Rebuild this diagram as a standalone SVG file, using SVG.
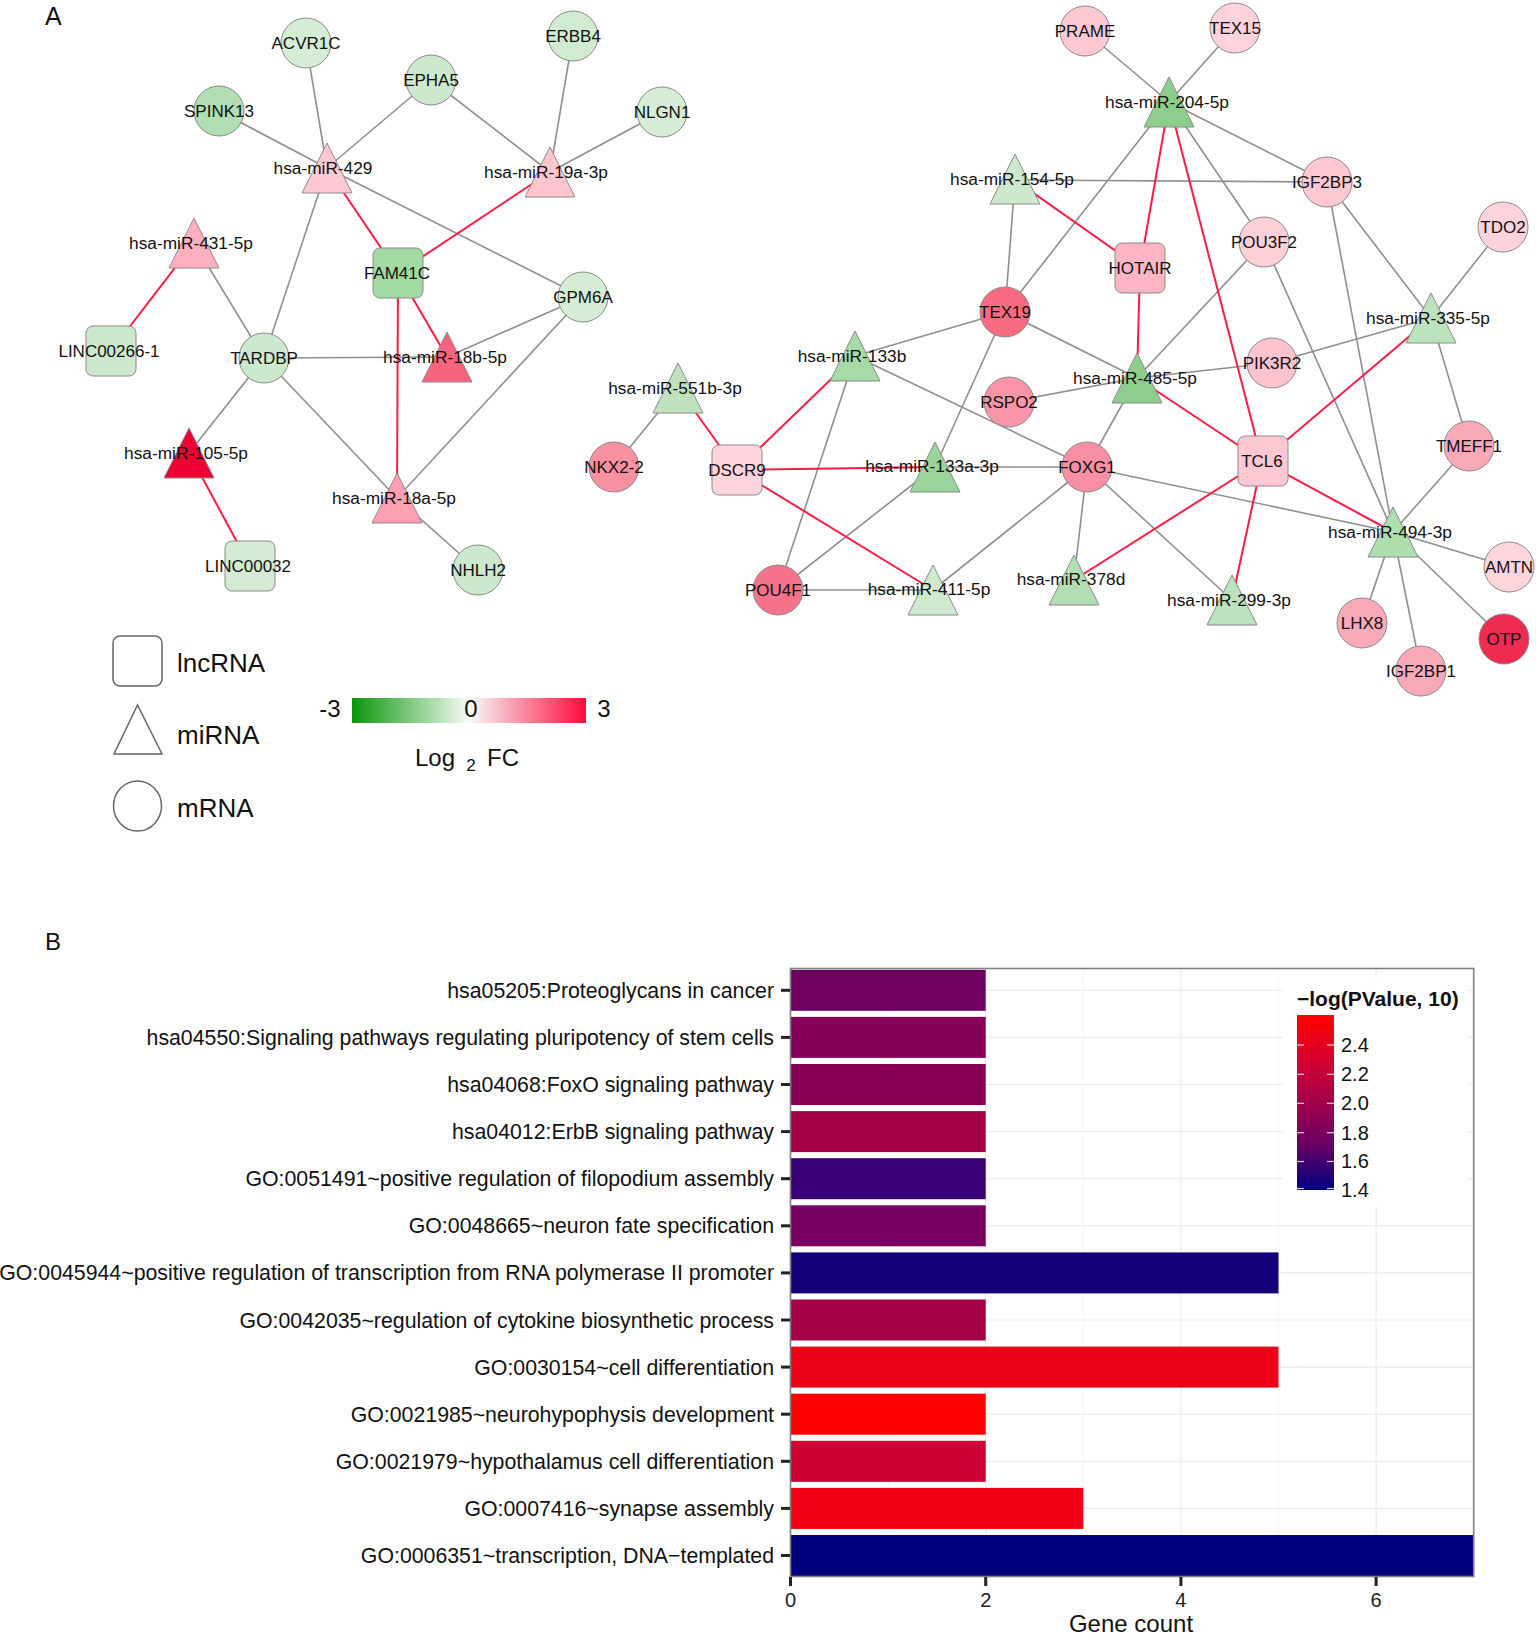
<svg xmlns="http://www.w3.org/2000/svg" width="1536" height="1635" viewBox="0 0 1536 1635">
<defs>
<style>
text{font-family:"Liberation Sans",Arial,sans-serif;fill:#111}
.e{stroke:#8f8f8f;stroke-width:1.6;fill:none}
.r{stroke:#ff1a45;stroke-width:2;fill:none}
.n{stroke:#8a8a8a;stroke-width:1}
.g{font-size:17px;text-anchor:middle}
.m{font-size:17.3px;text-anchor:middle}
.leg{font-size:26px}
.yl{font-size:21.3px;text-anchor:end}
.xt{font-size:20px;text-anchor:middle;fill:#222}
.tk{stroke:#222;stroke-width:3}
.gr{stroke:#ebebeb;stroke-width:1.2}
.gm{stroke:#f2f2f2;stroke-width:0.8}
</style>
<linearGradient id="fc" x1="0" y1="0" x2="1" y2="0">
<stop offset="0" stop-color="#0a960a"/>
<stop offset="0.5" stop-color="#f7fbf7"/>
<stop offset="1" stop-color="#ff0a3c"/>
</linearGradient>
<linearGradient id="pv" x1="0" y1="0" x2="0" y2="1">
<stop offset="0" stop-color="#ff0000"/>
<stop offset="0.25" stop-color="#d6002e"/>
<stop offset="0.5" stop-color="#a2004a"/>
<stop offset="0.75" stop-color="#660064"/>
<stop offset="1" stop-color="#00007f"/>
</linearGradient>
</defs>
<rect width="1536" height="1635" fill="#fff"/>
<text x="45" y="25" style="font-size:25px">A</text>
<text x="45" y="950" style="font-size:24px">B</text>

<g id="connectors">
<line class="e" x1="219" y1="111" x2="327" y2="168"/>
<line class="e" x1="306" y1="43" x2="327" y2="168"/>
<line class="e" x1="431" y1="80" x2="327" y2="168"/>
<line class="e" x1="431" y1="80" x2="550" y2="172"/>
<line class="e" x1="573" y1="36" x2="550" y2="172"/>
<line class="e" x1="662" y1="112" x2="550" y2="172"/>
<line class="e" x1="327" y1="168" x2="583" y2="297"/>
<line class="e" x1="327" y1="168" x2="264" y2="358"/>
<line class="e" x1="194" y1="243" x2="264" y2="358"/>
<line class="e" x1="264" y1="358" x2="447" y2="357"/>
<line class="e" x1="264" y1="358" x2="189" y2="453"/>
<line class="e" x1="264" y1="358" x2="397" y2="498"/>
<line class="e" x1="583" y1="297" x2="447" y2="357"/>
<line class="e" x1="583" y1="297" x2="397" y2="498"/>
<line class="e" x1="397" y1="498" x2="478" y2="570"/>
<line class="r" x1="327" y1="168" x2="398" y2="273"/>
<line class="r" x1="550" y1="172" x2="398" y2="273"/>
<line class="r" x1="398" y1="273" x2="447" y2="357"/>
<line class="r" x1="398" y1="273" x2="397" y2="498"/>
<line class="r" x1="194" y1="243" x2="111" y2="351"/>
<line class="r" x1="189" y1="453" x2="250" y2="566"/>

<line class="e" x1="1085" y1="31" x2="1169" y2="102"/>
<line class="e" x1="1235" y1="28" x2="1169" y2="102"/>
<line class="e" x1="1169" y1="102" x2="1327" y2="182"/>
<line class="e" x1="1169" y1="102" x2="1264" y2="242"/>
<line class="e" x1="1169" y1="102" x2="1005" y2="312"/>
<line class="e" x1="1015" y1="180" x2="1327" y2="182"/>
<line class="e" x1="1015" y1="180" x2="1005" y2="312"/>
<line class="e" x1="1327" y1="182" x2="1431" y2="318"/>
<line class="e" x1="1327" y1="182" x2="1393" y2="532"/>
<line class="e" x1="1264" y1="242" x2="1137" y2="378"/>
<line class="e" x1="1264" y1="242" x2="1393" y2="532"/>
<line class="e" x1="1503" y1="227" x2="1431" y2="318"/>
<line class="e" x1="1431" y1="318" x2="1272" y2="363"/>
<line class="e" x1="1272" y1="363" x2="1137" y2="378"/>
<line class="e" x1="1431" y1="318" x2="1469" y2="446"/>
<line class="e" x1="1005" y1="312" x2="855" y2="356"/>
<line class="e" x1="1005" y1="312" x2="1137" y2="378"/>
<line class="e" x1="1005" y1="312" x2="935" y2="467"/>
<line class="e" x1="855" y1="356" x2="1087" y2="467"/>
<line class="e" x1="855" y1="356" x2="778" y2="590"/>
<line class="e" x1="1009" y1="402" x2="1137" y2="378"/>
<line class="e" x1="1137" y1="378" x2="1087" y2="467"/>
<line class="e" x1="678" y1="388" x2="614" y2="467"/>
<line class="e" x1="935" y1="467" x2="1087" y2="467"/>
<line class="e" x1="935" y1="467" x2="778" y2="590"/>
<line class="e" x1="778" y1="590" x2="933" y2="590"/>
<line class="e" x1="933" y1="590" x2="1087" y2="467"/>
<line class="e" x1="1087" y1="467" x2="1074" y2="580"/>
<line class="e" x1="1087" y1="467" x2="1232" y2="600"/>
<line class="e" x1="1087" y1="467" x2="1393" y2="532"/>
<line class="e" x1="1393" y1="532" x2="1469" y2="446"/>
<line class="e" x1="1393" y1="532" x2="1509" y2="567"/>
<line class="e" x1="1393" y1="532" x2="1362" y2="623"/>
<line class="e" x1="1393" y1="532" x2="1421" y2="671"/>
<line class="e" x1="1393" y1="532" x2="1504" y2="639"/>
<line class="r" x1="1015" y1="180" x2="1140" y2="268"/>
<line class="r" x1="1169" y1="102" x2="1140" y2="268"/>
<line class="r" x1="1169" y1="102" x2="1262" y2="461"/>
<line class="r" x1="1140" y1="268" x2="1137" y2="378"/>
<line class="r" x1="1137" y1="378" x2="1262" y2="461"/>
<line class="r" x1="1431" y1="318" x2="1262" y2="461"/>
<line class="r" x1="1262" y1="461" x2="1393" y2="532"/>
<line class="r" x1="1262" y1="461" x2="1232" y2="600"/>
<line class="r" x1="1262" y1="461" x2="1074" y2="580"/>
<line class="r" x1="678" y1="388" x2="737" y2="470"/>
<line class="r" x1="737" y1="470" x2="855" y2="356"/>
<line class="r" x1="737" y1="470" x2="935" y2="467"/>
<line class="r" x1="737" y1="470" x2="933" y2="590"/>
</g>

<g id="n-ACVR1C"><circle class="n" cx="306" cy="43" r="25" fill="#d5edd5"/><text class="g" x="306" y="49">ACVR1C</text></g>
<g id="n-ERBB4"><circle class="n" cx="573" cy="36" r="25" fill="#d0ebd0"/><text class="g" x="573" y="42">ERBB4</text></g>
<g id="n-EPHA5"><circle class="n" cx="431" cy="80" r="25" fill="#cde9cd"/><text class="g" x="431" y="86">EPHA5</text></g>
<g id="n-SPINK13"><circle class="n" cx="219" cy="111" r="25" fill="#b3deb3"/><text class="g" x="219" y="117">SPINK13</text></g>
<g id="n-NLGN1"><circle class="n" cx="662" cy="112" r="25" fill="#d5edd5"/><text class="g" x="662" y="118">NLGN1</text></g>
<g id="n-GPM6A"><circle class="n" cx="583" cy="297" r="25" fill="#d5edd5"/><text class="g" x="583" y="303">GPM6A</text></g>
<g id="n-TARDBP"><circle class="n" cx="264" cy="358" r="25" fill="#cde9cd"/><text class="g" x="264" y="364">TARDBP</text></g>
<g id="n-NHLH2"><circle class="n" cx="478" cy="570" r="25" fill="#cde9cd"/><text class="g" x="478" y="576">NHLH2</text></g>
<g id="n-FAM41C"><rect class="n" x="373" y="248" width="50" height="50" rx="7" fill="#a3d9a3"/><text class="g" x="397" y="279">FAM41C</text></g>
<g id="n-LINC00266-1"><rect class="n" x="86" y="326" width="50" height="50" rx="7" fill="#cde9cd"/><text class="g" x="109" y="357">LINC00266-1</text></g>
<g id="n-LINC00032"><rect class="n" x="225" y="541" width="50" height="50" rx="7" fill="#d2ebd2"/><text class="g" x="248" y="572">LINC00032</text></g>
<g id="n-miR-429"><polygon class="n" points="327,143 302,193 352,193" fill="#ffc8d2"/><text class="m" x="323" y="174">hsa-miR-429</text></g>
<g id="n-miR-19a-3p"><polygon class="n" points="550,147 525,197 575,197" fill="#ffc5cf"/><text class="m" x="546" y="178">hsa-miR-19a-3p</text></g>
<g id="n-miR-431-5p"><polygon class="n" points="194,218 169,268 219,268" fill="#ffb0c0"/><text class="m" x="191" y="249">hsa-miR-431-5p</text></g>
<g id="n-miR-18b-5p"><polygon class="n" points="447,332 422,382 472,382" fill="#f7647f"/><text class="m" x="445" y="363">hsa-miR-18b-5p</text></g>
<g id="n-miR-105-5p"><polygon class="n" points="189,428 164,478 214,478" fill="#ee0033"/><text class="m" x="186" y="459">hsa-miR-105-5p</text></g>
<g id="n-miR-18a-5p"><polygon class="n" points="397,473 372,523 422,523" fill="#ff9fb2"/><text class="m" x="394" y="504">hsa-miR-18a-5p</text></g>

<g id="n-PRAME"><circle class="n" cx="1085" cy="31" r="25" fill="#ffc8d3"/><text class="g" x="1085" y="37">PRAME</text></g>
<g id="n-TEX15"><circle class="n" cx="1235" cy="28" r="25" fill="#ffd3db"/><text class="g" x="1235" y="34">TEX15</text></g>
<g id="n-IGF2BP3"><circle class="n" cx="1327" cy="182" r="25" fill="#ffc8d3"/><text class="g" x="1327" y="188">IGF2BP3</text></g>
<g id="n-POU3F2"><circle class="n" cx="1264" cy="242" r="25" fill="#ffd0d8"/><text class="g" x="1264" y="248">POU3F2</text></g>
<g id="n-TDO2"><circle class="n" cx="1503" cy="227" r="25" fill="#ffd3db"/><text class="g" x="1503" y="233">TDO2</text></g>
<g id="n-TEX19"><circle class="n" cx="1005" cy="312" r="25" fill="#f76a80"/><text class="g" x="1005" y="318">TEX19</text></g>
<g id="n-PIK3R2"><circle class="n" cx="1272" cy="363" r="25" fill="#ffc3cf"/><text class="g" x="1272" y="369">PIK3R2</text></g>
<g id="n-RSPO2"><circle class="n" cx="1009" cy="402" r="25" fill="#f995a7"/><text class="g" x="1009" y="408">RSPO2</text></g>
<g id="n-NKX2-2"><circle class="n" cx="614" cy="467" r="25" fill="#f7909f"/><text class="g" x="614" y="473">NKX2-2</text></g>
<g id="n-FOXG1"><circle class="n" cx="1087" cy="467" r="25" fill="#f88fa2"/><text class="g" x="1087" y="473">FOXG1</text></g>
<g id="n-TMEFF1"><circle class="n" cx="1469" cy="446" r="25" fill="#f9a9b8"/><text class="g" x="1469" y="452">TMEFF1</text></g>
<g id="n-AMTN"><circle class="n" cx="1509" cy="567" r="25" fill="#ffd5dc"/><text class="g" x="1509" y="573">AMTN</text></g>
<g id="n-LHX8"><circle class="n" cx="1362" cy="623" r="25" fill="#f9a9b8"/><text class="g" x="1362" y="629">LHX8</text></g>
<g id="n-OTP"><circle class="n" cx="1504" cy="639" r="25" fill="#ee2c52"/><text class="g" x="1504" y="645">OTP</text></g>
<g id="n-IGF2BP1"><circle class="n" cx="1421" cy="671" r="25" fill="#f9a9b8"/><text class="g" x="1421" y="677">IGF2BP1</text></g>
<g id="n-POU4F1"><circle class="n" cx="778" cy="590" r="25" fill="#f4728a"/><text class="g" x="778" y="596">POU4F1</text></g>
<g id="n-HOTAIR"><rect class="n" x="1115" y="243" width="50" height="50" rx="7" fill="#ffb6c4"/><text class="g" x="1140" y="274">HOTAIR</text></g>
<g id="n-DSCR9"><rect class="n" x="712" y="445" width="50" height="50" rx="7" fill="#ffd3db"/><text class="g" x="737" y="476">DSCR9</text></g>
<g id="n-TCL6"><rect class="n" x="1238" y="436" width="50" height="50" rx="7" fill="#ffc8d2"/><text class="g" x="1262" y="467">TCL6</text></g>
<g id="n-miR-204-5p"><polygon class="n" points="1169,77 1144,127 1194,127" fill="#8dce8d"/><text class="m" x="1167" y="108">hsa-miR-204-5p</text></g>
<g id="n-miR-154-5p"><polygon class="n" points="1015,154 990,204 1040,204" fill="#cde9cd"/><text class="m" x="1012" y="185">hsa-miR-154-5p</text></g>
<g id="n-miR-335-5p"><polygon class="n" points="1431,293 1406,343 1456,343" fill="#bde3bd"/><text class="m" x="1428" y="324">hsa-miR-335-5p</text></g>
<g id="n-miR-551b-3p"><polygon class="n" points="678,363 653,413 703,413" fill="#bfe3bf"/><text class="m" x="675" y="394">hsa-miR-551b-3p</text></g>
<g id="n-miR-133b"><polygon class="n" points="855,331 830,381 880,381" fill="#a6daa6"/><text class="m" x="852" y="362">hsa-miR-133b</text></g>
<g id="n-miR-485-5p"><polygon class="n" points="1137,353 1112,403 1162,403" fill="#8dce8d"/><text class="m" x="1135" y="384">hsa-miR-485-5p</text></g>
<g id="n-miR-133a-3p"><polygon class="n" points="935,442 910,492 960,492" fill="#9ad49a"/><text class="m" x="932" y="472">hsa-miR-133a-3p</text></g>
<g id="n-miR-411-5p"><polygon class="n" points="933,565 908,615 958,615" fill="#cfeacf"/><text class="m" x="929" y="595">hsa-miR-411-5p</text></g>
<g id="n-miR-378d"><polygon class="n" points="1074,555 1049,605 1099,605" fill="#b3deb3"/><text class="m" x="1071" y="585">hsa-miR-378d</text></g>
<g id="n-miR-299-3p"><polygon class="n" points="1232,575 1207,625 1257,625" fill="#bde3bd"/><text class="m" x="1229" y="606">hsa-miR-299-3p</text></g>
<g id="n-miR-494-3p"><polygon class="n" points="1393,507 1368,557 1418,557" fill="#afdfaf"/><text class="m" x="1390" y="538">hsa-miR-494-3p</text></g>

<g id="legend-shapes" fill="#fff" stroke="#666" stroke-width="1.5">
<rect x="113" y="636" width="49" height="50" rx="7"/>
<polygon points="137.5,705 114,754 162,754"/>
<ellipse cx="137.5" cy="806" rx="24" ry="25"/>
</g>
<text class="leg" x="177" y="672">lncRNA</text>
<text class="leg" x="177" y="744">miRNA</text>
<text class="leg" x="177" y="817">mRNA</text>
<rect x="352" y="698" width="234" height="25" fill="url(#fc)"/>
<text x="330" y="717" style="font-size:24px;text-anchor:middle">-3</text>
<text x="471" y="717" style="font-size:24px;text-anchor:middle">0</text>
<text x="604" y="717" style="font-size:24px;text-anchor:middle">3</text>
<text x="415" y="766" style="font-size:24px">Log</text>
<text x="471" y="771" style="font-size:17px;text-anchor:middle">2</text>
<text x="487" y="766" style="font-size:24px">FC</text>

<g id="chart">
<rect x="790.5" y="968.5" width="683.2" height="608" fill="#fff"/>
<g class="gm">
<line x1="888.1" y1="968.5" x2="888.1" y2="1576.5"/>
<line x1="1083.3" y1="968.5" x2="1083.3" y2="1576.5"/>
<line x1="1278.5" y1="968.5" x2="1278.5" y2="1576.5"/>
</g>
<g class="gr">
<line x1="985.7" y1="968.5" x2="985.7" y2="1576.5"/>
<line x1="1180.9" y1="968.5" x2="1180.9" y2="1576.5"/>
<line x1="1376.1" y1="968.5" x2="1376.1" y2="1576.5"/>
<line x1="790.5" y1="990.3" x2="1473.7" y2="990.3"/>
<line x1="790.5" y1="1037.4" x2="1473.7" y2="1037.4"/>
<line x1="790.5" y1="1084.5" x2="1473.7" y2="1084.5"/>
<line x1="790.5" y1="1131.6" x2="1473.7" y2="1131.6"/>
<line x1="790.5" y1="1178.7" x2="1473.7" y2="1178.7"/>
<line x1="790.5" y1="1225.8" x2="1473.7" y2="1225.8"/>
<line x1="790.5" y1="1272.9" x2="1473.7" y2="1272.9"/>
<line x1="790.5" y1="1320" x2="1473.7" y2="1320"/>
<line x1="790.5" y1="1367.1" x2="1473.7" y2="1367.1"/>
<line x1="790.5" y1="1414.2" x2="1473.7" y2="1414.2"/>
<line x1="790.5" y1="1461.3" x2="1473.7" y2="1461.3"/>
<line x1="790.5" y1="1508.4" x2="1473.7" y2="1508.4"/>
<line x1="790.5" y1="1555.5" x2="1473.7" y2="1555.5"/>
</g>
<g id="bars">
<rect x="790.5" y="969.8" width="195.2" height="41" fill="#6e0060"/>
<rect x="790.5" y="1016.9" width="195.2" height="41" fill="#850058"/>
<rect x="790.5" y="1064" width="195.2" height="41" fill="#880056"/>
<rect x="790.5" y="1111.1" width="195.2" height="41" fill="#a50045"/>
<rect x="790.5" y="1158.2" width="195.2" height="41" fill="#3a0075"/>
<rect x="790.5" y="1205.3" width="195.2" height="41" fill="#770060"/>
<rect x="790.5" y="1252.4" width="488" height="41" fill="#140079"/>
<rect x="790.5" y="1299.5" width="195.2" height="41" fill="#a50048"/>
<rect x="790.5" y="1346.6" width="488" height="41" fill="#ef0019"/>
<rect x="790.5" y="1393.7" width="195.2" height="41" fill="#ff0000"/>
<rect x="790.5" y="1440.8" width="195.2" height="41" fill="#cc0033"/>
<rect x="790.5" y="1487.9" width="292.8" height="41" fill="#f20016"/>
<rect x="790.5" y="1535" width="683.2" height="41" fill="#00007f"/>
</g>
<g id="legend-pv">
<rect x="1282" y="978" width="186" height="229" fill="#fff"/>
<text x="1297" y="1006" style="font-size:21px;font-weight:bold">−log(PValue, 10)</text>
<rect x="1297" y="1015" width="37" height="175" fill="url(#pv)"/>
<g stroke="#fff" stroke-width="1.2" opacity="0.8">
<line x1="1297" y1="1045" x2="1304" y2="1045"/><line x1="1327" y1="1045" x2="1334" y2="1045"/>
<line x1="1297" y1="1074.3" x2="1304" y2="1074.3"/><line x1="1327" y1="1074.3" x2="1334" y2="1074.3"/>
<line x1="1297" y1="1103.3" x2="1304" y2="1103.3"/><line x1="1327" y1="1103.3" x2="1334" y2="1103.3"/>
<line x1="1297" y1="1132.7" x2="1304" y2="1132.7"/><line x1="1327" y1="1132.7" x2="1334" y2="1132.7"/>
<line x1="1297" y1="1161.5" x2="1304" y2="1161.5"/><line x1="1327" y1="1161.5" x2="1334" y2="1161.5"/>
<line x1="1297" y1="1188.5" x2="1304" y2="1188.5"/><line x1="1327" y1="1188.5" x2="1334" y2="1188.5"/>
</g>
<g style="font-size:20px;fill:#333">
<text x="1341" y="1052">2.4</text>
<text x="1341" y="1081">2.2</text>
<text x="1341" y="1110">2.0</text>
<text x="1341" y="1140">1.8</text>
<text x="1341" y="1168">1.6</text>
<text x="1341" y="1197">1.4</text>
</g>
</g>
<rect x="790.5" y="968.5" width="683.2" height="608" fill="none" stroke="#7f7f7f" stroke-width="1.6"/>
<g id="yticks">
<line class="tk" x1="781" y1="990.3" x2="790" y2="990.3"/>
<line class="tk" x1="781" y1="1037.4" x2="790" y2="1037.4"/>
<line class="tk" x1="781" y1="1084.5" x2="790" y2="1084.5"/>
<line class="tk" x1="781" y1="1131.6" x2="790" y2="1131.6"/>
<line class="tk" x1="781" y1="1178.7" x2="790" y2="1178.7"/>
<line class="tk" x1="781" y1="1225.8" x2="790" y2="1225.8"/>
<line class="tk" x1="781" y1="1272.9" x2="790" y2="1272.9"/>
<line class="tk" x1="781" y1="1320" x2="790" y2="1320"/>
<line class="tk" x1="781" y1="1367.1" x2="790" y2="1367.1"/>
<line class="tk" x1="781" y1="1414.2" x2="790" y2="1414.2"/>
<line class="tk" x1="781" y1="1461.3" x2="790" y2="1461.3"/>
<line class="tk" x1="781" y1="1508.4" x2="790" y2="1508.4"/>
<line class="tk" x1="781" y1="1555.5" x2="790" y2="1555.5"/>
<line class="tk" x1="790.5" y1="1577" x2="790.5" y2="1586"/>
<line class="tk" x1="985.7" y1="1577" x2="985.7" y2="1586"/>
<line class="tk" x1="1180.9" y1="1577" x2="1180.9" y2="1586"/>
<line class="tk" x1="1376.1" y1="1577" x2="1376.1" y2="1586"/>
</g>
<g id="ylabels">
<text class="yl" x="774" y="997.8">hsa05205:Proteoglycans in cancer</text>
<text class="yl" x="774" y="1044.9">hsa04550:Signaling pathways regulating pluripotency of stem cells</text>
<text class="yl" x="774" y="1092">hsa04068:FoxO signaling pathway</text>
<text class="yl" x="774" y="1139.1">hsa04012:ErbB signaling pathway</text>
<text class="yl" x="774" y="1186.2">GO:0051491~positive regulation of filopodium assembly</text>
<text class="yl" x="774" y="1233.3">GO:0048665~neuron fate specification</text>
<text class="yl" x="774" y="1280.4">GO:0045944~positive regulation of transcription from RNA polymerase II promoter</text>
<text class="yl" x="774" y="1327.5">GO:0042035~regulation of cytokine biosynthetic process</text>
<text class="yl" x="774" y="1374.6">GO:0030154~cell differentiation</text>
<text class="yl" x="774" y="1421.7">GO:0021985~neurohypophysis development</text>
<text class="yl" x="774" y="1468.8">GO:0021979~hypothalamus cell differentiation</text>
<text class="yl" x="774" y="1515.9">GO:0007416~synapse assembly</text>
<text class="yl" x="774" y="1563">GO:0006351~transcription, DNA−templated</text>
</g>
<text class="xt" x="790.5" y="1607">0</text>
<text class="xt" x="985.7" y="1607">2</text>
<text class="xt" x="1180.9" y="1607">4</text>
<text class="xt" x="1376.1" y="1607">6</text>
<text x="1131" y="1632" style="font-size:24px;text-anchor:middle">Gene count</text>
</g>
</svg>
